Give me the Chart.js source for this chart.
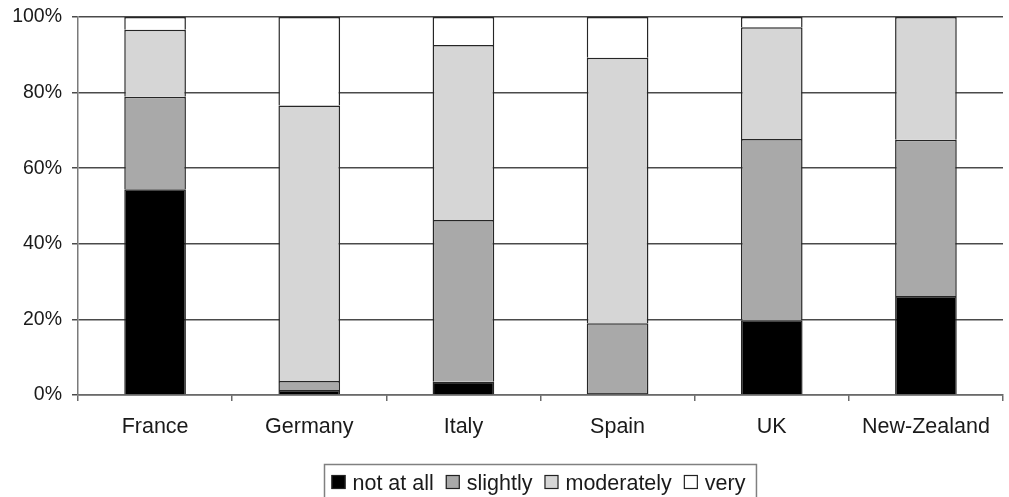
<!DOCTYPE html>
<html>
<head>
<meta charset="utf-8">
<script src="https://cdn.jsdelivr.net/npm/chart.js@4/dist/chart.umd.min.js"></script>
<style>
  html, body { margin: 0; padding: 0; background: #fff; }
  #wrap { width: 1009px; height: 497px; }
</style>
</head>
<body>
<div id="wrap"><canvas id="c" width="1009" height="497"></canvas></div>
<script>
// Share of answers per country (percent, stacked to 100)
const countries  = ['France', 'Germany', 'Italy', 'Spain', 'UK', 'New-Zealand'];
const notAtAll   = [54.4,  1.3,  3.5,  0.5, 19.8, 26.2];
const slightly   = [24.5,  2.4, 42.8, 18.5, 47.9, 41.3];
const moderately = [17.7, 72.9, 46.3, 70.2, 29.6, 32.5];
const very       = [ 3.4, 23.4,  7.4, 10.8,  2.7,  0.0];
const levelNames = ['not at all', 'slightly', 'moderately', 'very'];
const yTickValues = [0, 20, 40, 60, 80, 100];

const FONT = '"Liberation Sans", Arial, sans-serif';
const TEXT = '#1a1a1a';
const fills = ['#000000', '#a9a9a9', '#d6d6d6', '#ffffff'];
const series = [notAtAll, slightly, moderately, very];

const datasets = series.map((vals, i) => ({
  label: levelNames[i],
  data: vals,
  backgroundColor: fills[i],
  borderColor: '#262626',
  borderWidth: 1.5,
  borderSkipped: 'start',
  barPercentage: 0.4,
  categoryPercentage: 1.0
}));

// Boxed legend drawn under the plot, centred on the plot area
const boxedLegend = {
  id: 'boxedLegend',
  afterDraw(chart) {
    const ctx = chart.ctx;
    const area = chart.chartArea;
    ctx.save();
    ctx.font = '21.5px ' + FONT;
    const box = 14, gapText = 7, gapItem = 12, padL = 7, padR = 11;
    const items = chart.data.datasets.map(d => ({
      label: d.label, fill: d.backgroundColor, w: ctx.measureText(d.label).width
    }));
    let content = 0;
    items.forEach((it, i) => { content += box + gapText + it.w + (i < items.length - 1 ? gapItem : 0); });
    const frameW = content + padL + padR;
    const cx = (area.left + area.right) / 2 - 1;
    const frameL = Math.round(cx - frameW / 2) + 0.5;
    const frameT = 464.5;
    ctx.strokeStyle = '#808080';
    ctx.lineWidth = 1.5;
    ctx.strokeRect(frameL, frameT, frameW, 60);
    let x = frameL + padL;
    const baseY = 490;
    ctx.textBaseline = 'alphabetic';
    ctx.textAlign = 'left';
    items.forEach(it => {
      ctx.fillStyle = it.fill;
      ctx.fillRect(x, baseY - 15, box, box);
      ctx.strokeStyle = '#222';
      ctx.lineWidth = 1.2;
      ctx.strokeRect(x + 0.5, baseY - 14.5, box - 1, box - 1);
      x += box + gapText;
      ctx.fillStyle = TEXT;
      ctx.fillText(it.label, x, baseY);
      x += it.w + gapItem;
    });
    ctx.restore();
  }
};

new Chart(document.getElementById('c'), {
  type: 'bar',
  data: { labels: countries, datasets },
  options: {
    responsive: false,
    animation: false,
    layout: { padding: { top: 17, right: 6, bottom: 52, left: 0 } },
    plugins: {
      legend: { display: false },
      tooltip: { enabled: false }
    },
    scales: {
      x: {
        stacked: true,
        offset: true,
        grid: {
          offset: true,
          drawOnChartArea: false,
          drawTicks: true,
          tickLength: 6,
          color: '#6a6a6a',
          lineWidth: 1.5
        },
        border: { color: '#6a6a6a', width: 1.5 },
        ticks: {
          color: TEXT,
          font: { family: FONT, size: 21.5 },
          padding: 13,
          maxRotation: 0
        },
        afterFit(scale) { scale.height = 50; scale.paddingLeft = 0; scale.paddingRight = 0; }
      },
      y: {
        stacked: true,
        min: 0,
        max: 100,
        afterBuildTicks(scale) { scale.ticks = yTickValues.map(v => ({ value: v })); },
        grid: {
          color: '#4a4a4a',
          lineWidth: 1.5,
          drawTicks: true,
          tickLength: 6
        },
        border: { color: '#7a7a7a', width: 1.5 },
        ticks: {
          color: TEXT,
          font: { family: FONT, size: 19.5 },
          padding: 10,
          callback: v => v + '%'
        },
        afterFit(scale) { scale.width = 78; scale.paddingTop = 0; scale.paddingBottom = 0; }
      }
    }
  },
  plugins: [boxedLegend]
});
</script>
</body>
</html>
